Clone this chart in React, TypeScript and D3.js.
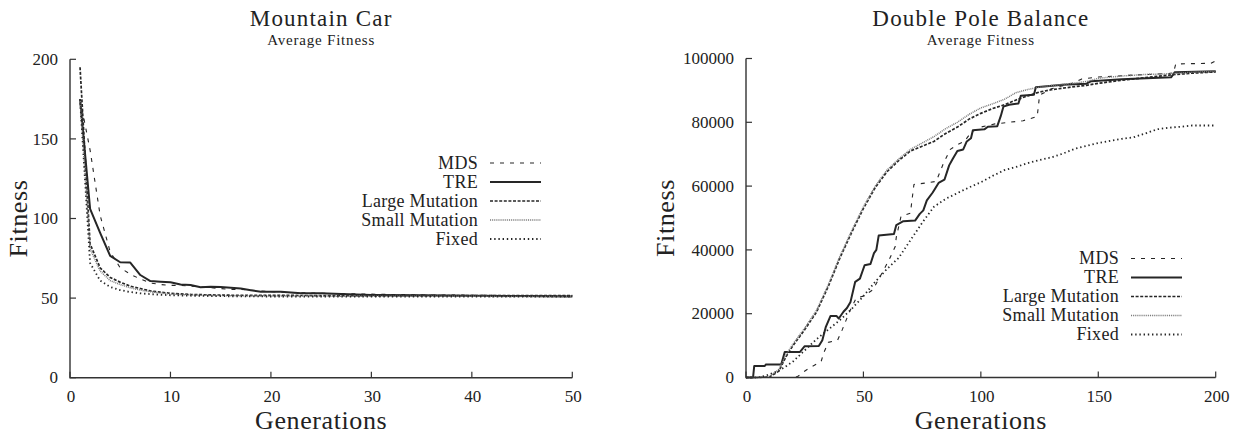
import React from "react";
import * as d3 from "d3";

type Pt = [number, number];

// ---- Mountain Car: average fitness, generations 1..50 ----
const mcMDS: Pt[] = [
  [1, 175], [2, 143], [3, 102], [4, 79], [5, 69], [6, 65], [7, 62], [8, 59.5], [9, 58.5], [10, 58],
  [11, 58], [12, 57.5], [13, 57], [14, 56.5], [15, 56], [16, 55.5], [17, 55.5], [18, 55], [19, 54.5],
  [20, 54], [22, 53.5], [25, 53], [30, 52.5], [35, 52], [40, 51.8], [45, 51.5], [50, 51.5],
];
const mcTRE: Pt[] = [
  [1, 175], [2, 106], [3, 91], [4, 76.5], [5, 72.5], [6, 72.3], [7, 64.5], [8, 60.7], [9, 60.3], [10, 60],
  [11, 58.6], [12, 58.2], [13, 56.8], [14, 57.2], [15, 57], [16, 56.5], [17, 56], [18, 55], [19, 54],
  [20, 54], [21, 54], [22, 53.5], [23, 53], [25, 53], [27, 52.5], [30, 52], [35, 51.8], [40, 51.5],
  [45, 51.3], [50, 51],
];
const mcLarge: Pt[] = [
  [1, 195], [2, 84], [3, 69], [4, 63], [5, 60], [6, 57.5], [7, 56], [8, 54.5], [9, 53.7], [10, 53],
  [11, 52.6], [12, 52.3], [14, 52], [16, 51.8], [20, 51.7], [25, 51.6], [30, 51.6], [40, 51.6], [50, 51.6],
];
const mcSmall: Pt[] = [
  [1, 175], [2, 81], [3, 67], [4, 61], [5, 58.5], [6, 56.5], [7, 55], [8, 54], [9, 53.2], [10, 52.6],
  [11, 52.2], [12, 52], [14, 51.7], [16, 51.5], [20, 51.3], [30, 51.2], [40, 51.1], [50, 51],
];
const mcFixed: Pt[] = [
  [1, 175], [2, 72], [3, 61], [4, 57], [5, 55], [6, 53.8], [7, 53], [8, 52.5], [9, 52.1], [10, 51.8],
  [12, 51.5], [15, 51.2], [20, 51], [30, 51], [40, 51], [50, 51],
];
const mcXTicks = [0, 10, 20, 30, 40, 50];
const mcYTicks = [0, 50, 100, 150, 200];

// ---- Double Pole Balance: average fitness, generations 0..200 ----
const dpMDS: Pt[] = [
  [0, 0], [20, 0], [22, 300], [24, 1500], [27, 3000], [30, 4200], [32, 5000], [33, 7500], [35, 11000],
  [39, 11700], [41, 15000], [44, 20500], [47, 25000], [50, 25500], [54, 27500], [57, 31500], [61, 37000],
  [63.5, 41000], [64, 44000], [66, 50500], [70, 51500], [71.5, 60500], [77, 61000], [81, 61500], [84, 67000],
  [87, 71500], [90, 73000], [93, 74000], [96, 77000], [100, 78500], [106, 79500], [112, 80000], [118, 80500],
  [124, 81800], [125, 88500], [130, 90500], [135, 91500], [140, 92500], [143, 93600], [150, 94200],
  [165, 94800], [180, 95300], [182, 95500], [183, 98300], [198, 98500], [200, 99300],
];
const dpTRE: Pt[] = [
  [0, 0], [3, 0], [3.5, 3600], [8, 3600], [8.5, 4100], [15, 4100], [16.5, 8000], [23, 8000], [25, 9800],
  [31, 9900], [32.5, 11700], [34, 15900], [36, 19300], [38.5, 19300], [39.5, 18500], [41.5, 20600],
  [43, 21800], [44.5, 23700], [46.5, 30000], [48.5, 31000], [50.5, 35200], [53, 35600], [54.5, 39000],
  [55.5, 40000], [56.5, 44500], [63, 45000], [64, 47800], [67, 49000], [72, 49200], [74, 51300],
  [75.5, 52400], [77, 55500], [79.5, 58000], [82, 61000], [84.5, 62000], [86.5, 66500], [88, 68500],
  [90, 71000], [92.5, 71500], [94, 74000], [95.8, 75000], [96.6, 77500], [101.5, 77800], [103, 78600],
  [107, 78800], [108.5, 82000], [109.6, 84900], [112, 85500], [116, 85900], [117, 88300], [122.6, 88600],
  [123.4, 91000], [135, 91800], [145, 92100], [147, 92900], [160, 93500], [181, 94100], [182.6, 95700],
  [200, 96000],
];
const dpLarge: Pt[] = [
  [0, 0], [5, 0], [10, 200], [14, 2000], [17, 6500], [20, 10000], [25, 15000], [30, 20500], [35, 28500],
  [40, 37500], [45, 45500], [50, 53000], [55, 59500], [60, 64500], [65, 68000], [70, 71000], [75, 72500],
  [80, 74000], [85, 76500], [90, 78500], [95, 81000], [100, 82800], [105, 84300], [110, 85500],
  [115, 87000], [120, 88300], [125, 89500], [130, 90200], [135, 90700], [140, 91200], [145, 91600],
  [150, 92200], [160, 93200], [170, 94000], [180, 94800], [190, 95400], [200, 95800],
];
const dpSmall: Pt[] = [
  [0, 0], [5, 0], [10, 300], [14, 2500], [17, 7000], [20, 10500], [25, 15500], [30, 21000], [35, 29000],
  [40, 38000], [45, 46000], [50, 53500], [55, 60000], [60, 65000], [65, 68500], [70, 71500], [75, 73500],
  [80, 75500], [85, 78000], [90, 80000], [95, 82500], [100, 84500], [105, 85800], [110, 87200],
  [115, 89300], [120, 90300], [125, 91000], [130, 91500], [135, 91900], [140, 92300], [145, 92800],
  [150, 93800], [160, 94500], [170, 95000], [180, 95200], [190, 95700], [200, 96000],
];
const dpFixed: Pt[] = [
  [0, 0], [5, 0], [8, 500], [12, 1500], [16, 3000], [20, 5000], [25, 8500], [30, 12000], [35, 15000],
  [40, 18000], [45, 21500], [50, 25500], [55, 30000], [60, 34000], [65, 37500], [70, 43000], [75, 48500],
  [80, 53500], [85, 56000], [90, 57800], [95, 59600], [100, 61200], [105, 63200], [110, 65000],
  [115, 66000], [120, 67200], [125, 68200], [130, 69000], [135, 70200], [140, 71700], [145, 72600],
  [150, 73500], [155, 74200], [160, 74800], [165, 75300], [170, 76500], [175, 77800], [180, 78300],
  [185, 78600], [190, 79000], [200, 79000],
];
const dpXTicks = [0, 50, 100, 150, 200];
const dpYTicks = [0, 20000, 40000, 60000, 80000, 100000];

const seriesNames = ["MDS", "TRE", "Large Mutation", "Small Mutation", "Fixed"];

const ink = "#262626";
const lineStyle: Record<string, { stroke: string; width: number; dash?: string }> = {
  MDS: { stroke: ink, width: 1.1, dash: "4,6" },
  TRE: { stroke: ink, width: 2 },
  "Large Mutation": { stroke: ink, width: 1.7, dash: "3,1.6" },
  "Small Mutation": { stroke: "#7a7a7a", width: 1.5, dash: "1,0.9" },
  Fixed: { stroke: ink, width: 1.8, dash: "1.4,2.8" },
};

const font = "'Liberation Serif', 'Times New Roman', serif";

type ChartProps = {
  title: string;
  subtitle: string;
  box: { x0: number; x1: number; y0: number; y1: number };
  xDomain: [number, number];
  yDomain: [number, number];
  xTicks: number[];
  yTicks: number[];
  data: Pt[][];
  legend: { right: number; top: number };
  yLabelX: number;
};

function Chart({ title, subtitle, box, xDomain, yDomain, xTicks, yTicks, data, legend, yLabelX }: ChartProps) {
  const x = d3.scaleLinear().domain(xDomain).range([box.x0, box.x1]);
  const y = d3.scaleLinear().domain(yDomain).range([box.y1, box.y0]);
  const mkLine = d3
    .line<Pt>()
    .x((d) => x(d[0]))
    .y((d) => y(d[1]));
  const cx = (box.x0 + box.x1) / 2;
  const cy = (box.y0 + box.y1) / 2;

  return (
    <g fontFamily={font} fill="#222">
      <text x={cx} y={25.5} fontSize={23} letterSpacing={1.2} textAnchor="middle">
        {title}
      </text>
      <text x={cx} y={44.5} fontSize={15} letterSpacing={0.8} textAnchor="middle">
        {subtitle}
      </text>

      {data.map((pts, i) => {
        const s = lineStyle[seriesNames[i]];
        return (
          <path
            key={i}
            d={mkLine(pts) || ""}
            fill="none"
            stroke={s.stroke}
            strokeWidth={s.width}
            strokeDasharray={s.dash}
            strokeLinejoin="round"
          />
        );
      })}

      {/* axes */}
      <path
        d={`M${box.x0},${box.y0}V${box.y1}H${box.x1}`}
        fill="none"
        stroke="#333"
        strokeWidth={1.4}
      />
      {xTicks.map((t) => (
        <g key={"x" + t}>
          <line x1={x(t)} x2={x(t)} y1={box.y1} y2={box.y1 - 6} stroke="#333" strokeWidth={1.2} />
          <text x={x(t) + 1} y={402} fontSize={17} textAnchor="middle">
            {t}
          </text>
        </g>
      ))}
      {yTicks.map((t) => (
        <g key={"y" + t}>
          <line x1={box.x0} x2={box.x0 + 6} y1={y(t)} y2={y(t)} stroke="#333" strokeWidth={1.2} />
          <text x={box.x0 - 12} y={y(t)} dy="0.33em" fontSize={17} textAnchor="end">
            {t}
          </text>
        </g>
      ))}

      <text x={cx} y={429} fontSize={26} textAnchor="middle" letterSpacing={0.6}>
        Generations
      </text>
      <text
        transform={`translate(${yLabelX},${cy}) rotate(-90)`}
        fontSize={26}
        textAnchor="middle"
        letterSpacing={0.6}
      >
        Fitness
      </text>

      {/* legend */}
      {seriesNames.map((name, i) => {
        const s = lineStyle[name];
        const ly = legend.top + i * 19;
        return (
          <g key={name}>
            <text x={legend.right} y={ly} dy="0.33em" fontSize={18} textAnchor="end" letterSpacing={0.3}>
              {name}
            </text>
            <line
              x1={legend.right + 12}
              x2={legend.right + 63}
              y1={ly}
              y2={ly}
              stroke={s.stroke}
              strokeWidth={s.width}
              strokeDasharray={s.dash}
            />
          </g>
        );
      })}
    </g>
  );
}

export default function App() {
  return (
    <svg
      width={1235}
      height={437}
      style={{ position: "absolute", left: 0, top: 0, background: "#fff" }}
    >
      <Chart
        title="Mountain Car"
        subtitle="Average Fitness"
        box={{ x0: 70, x1: 572.3, y0: 59.3, y1: 377.7 }}
        xDomain={[0, 50]}
        yDomain={[0, 200]}
        xTicks={mcXTicks}
        yTicks={mcYTicks}
        data={[mcMDS, mcTRE, mcLarge, mcSmall, mcFixed]}
        legend={{ right: 478, top: 163 }}
        yLabelX={27}
      />
      <Chart
        title="Double Pole Balance"
        subtitle="Average Fitness"
        box={{ x0: 746, x1: 1215.7, y0: 58.5, y1: 377.5 }}
        xDomain={[0, 200]}
        yDomain={[0, 100000]}
        xTicks={dpXTicks}
        yTicks={dpYTicks}
        data={[dpMDS, dpTRE, dpLarge, dpSmall, dpFixed]}
        legend={{ right: 1119, top: 258.5 }}
        yLabelX={674}
      />
    </svg>
  );
}
